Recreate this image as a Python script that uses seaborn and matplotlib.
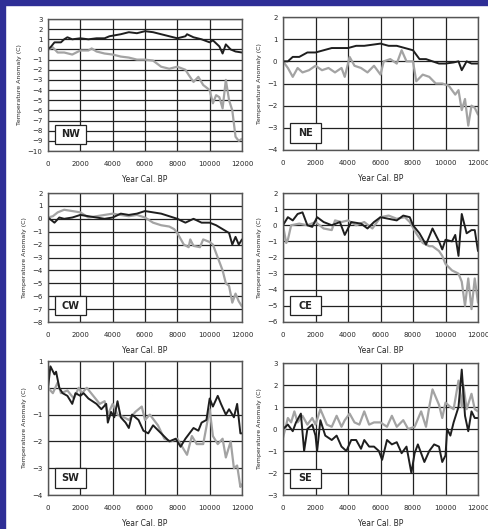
import seaborn as sns
import numpy as np
import matplotlib.pyplot as plt
from matplotlib.patches import Rectangle

# NW region
nw_black_year = [0, 200, 400, 800, 1000, 1200, 1500, 2000, 2500, 3000, 3500, 3800, 4500, 5000, 5500, 6000,
                 6500, 7000, 7500, 8000, 8500, 8600, 9000, 9500, 10000, 10200, 10600, 10800, 11000, 11300,
                 11600, 12000]
nw_black_val = [0, 0.3, 0.7, 0.7, 1.0, 1.2, 1.0, 1.1, 1.0, 1.1, 1.1, 1.3, 1.5, 1.7, 1.6, 1.8,
                1.7, 1.5, 1.3, 1.1, 1.3, 1.5, 1.2, 1.0, 0.7, 0.9, 0.3, -0.4, 0.5, 0.0,
                -0.2, -0.3]
nw_grey_year = [0, 300, 600, 1000, 1500, 2000, 2500, 2700, 3000, 3500, 4000, 4500, 5000, 5500, 6000, 6500,
                7000, 7500, 8000, 8500, 8700, 9000, 9300, 9600, 10000, 10200, 10400, 10600, 10800, 11000,
                11200, 11400, 11600, 11800, 12000]
nw_grey_val = [0, 0.2, -0.3, -0.3, -0.5, -0.1, -0.1, 0.1, -0.2, -0.4, -0.5, -0.7, -0.8, -1.0, -1.0, -1.1,
               -1.7, -1.9, -1.7, -2.0, -2.5, -3.2, -2.7, -3.5, -4.0, -5.3, -4.5, -4.7, -5.8, -3.0,
               -5.0, -6.0, -8.6, -9.0, -8.8]

# NE region
ne_black_year = [0, 300, 600, 1000, 1500, 2000, 2500, 3000, 3500, 4000, 4500, 5000, 5500, 6000, 6500, 7000,
                 7500, 8000, 8400, 8800, 9200, 9600, 10000, 10500, 10800, 11000, 11300, 11600, 12000]
ne_black_val = [0, 0, 0.2, 0.2, 0.4, 0.4, 0.5, 0.6, 0.6, 0.6, 0.7, 0.7, 0.75, 0.8, 0.7, 0.7,
                0.6, 0.5, 0.1, 0.1, 0.0, -0.1, -0.1, -0.05, 0.0, -0.4, 0.0, -0.1, -0.1]
ne_grey_year = [0, 300, 600, 900, 1200, 1600, 2000, 2400, 2800, 3200, 3600, 3800, 4100, 4400, 4800, 5200,
                5600, 6000, 6200, 6600, 7000, 7300, 7600, 8000, 8200, 8600, 9000, 9400, 9800, 10200,
                10600, 10800, 11000, 11200, 11400, 11600, 11800, 12000]
ne_grey_val = [0, -0.3, -0.7, -0.3, -0.5, -0.4, -0.2, -0.4, -0.3, -0.5, -0.3, -0.7, 0.2, -0.2, -0.3, -0.5,
               -0.2, -0.6, 0.0, 0.1, -0.1, 0.5, 0.0, 0.0, -0.9, -0.6, -0.7, -1.0, -1.0, -1.1,
               -1.5, -1.3, -2.2, -1.7, -2.9, -2.0, -2.1, -2.4]

# CW region
cw_black_year = [0, 400, 700, 1000, 1500, 2000, 2500, 3000, 3500, 4000, 4500, 5000, 5500, 6000, 6500, 7000,
                 7500, 8000, 8500, 9000, 9500, 10000, 10400, 10800, 11200, 11400, 11600, 11800, 12000]
cw_black_val = [0.1, -0.3, 0.1, 0.0, 0.1, 0.3, 0.2, 0.1, 0.0, 0.1, 0.4, 0.3, 0.4, 0.6, 0.5, 0.4,
                0.2, 0.0, -0.3, 0.0, -0.3, -0.3, -0.5, -0.8, -1.1, -2.0, -1.4, -2.0, -1.6]
cw_grey_year = [0, 300, 600, 1000, 1500, 2000, 2500, 3000, 3500, 4000, 4500, 5000, 5500, 6000, 6500, 7000,
                7500, 7800, 8000, 8400, 8700, 8800, 9000, 9400, 9600, 10000, 10200, 10500, 10800, 11000,
                11200, 11400, 11600, 11800, 12000]
cw_grey_val = [0.1, 0.2, 0.5, 0.7, 0.6, 0.5, 0.1, 0.2, 0.3, 0.4, 0.3, 0.2, 0.3, 0.1, -0.3, -0.5,
               -0.6, -0.8, -1.1, -2.0, -2.2, -1.6, -2.1, -2.2, -1.6, -1.8, -2.0, -3.0, -4.0, -5.0,
               -5.2, -6.5, -5.8, -6.4, -6.8]

# CE region
ce_black_year = [0, 300, 600, 900, 1200, 1500, 1800, 2100, 2500, 3000, 3500, 3800, 4200, 4800, 5200, 5600,
                 6000, 6500, 7000, 7400, 7800, 8000, 8400, 8800, 9200, 9600, 9800, 10000, 10400, 10600,
                 10800, 11000, 11300, 11600, 11800, 12000]
ce_black_val = [0, 0.5, 0.3, 0.7, 0.8, 0.0, -0.1, 0.5, 0.2, 0.0, 0.2, -0.6, 0.2, 0.1, -0.2, 0.2,
                0.5, 0.4, 0.3, 0.6, 0.5, 0.0, -0.5, -1.2, -0.2, -1.0, -1.5, -0.9, -1.0, -0.6,
                -1.9, 0.7, -0.5, -0.3, -0.3, -1.6]
ce_grey_year = [0, 200, 300, 500, 1000, 1500, 2000, 2500, 3000, 3200, 3600, 4000, 4500, 5000, 5500, 6000,
                6500, 7000, 7500, 7800, 8200, 8600, 9000, 9200, 9600, 9800, 10000, 10400, 10800, 11000,
                11200, 11400, 11600, 11800, 12000]
ce_grey_val = [0, -1.1, -0.9, 0.0, 0.1, 0.0, 0.2, -0.2, -0.3, 0.3, 0.2, 0.3, 0.0, 0.2, -0.2, 0.5,
               0.6, 0.4, 0.5, 0.2, -0.5, -1.1, -1.3, -1.3, -1.6, -1.9, -2.4, -2.8, -3.0, -3.5,
               -5.0, -3.3, -5.2, -3.3, -4.8]

# SW region
sw_black_year = [0, 150, 400, 500, 700, 900, 1200, 1500, 1700, 2000, 2200, 2500, 3000, 3300, 3600, 3700,
                 3900, 4100, 4300, 4500, 4800, 5000, 5200, 5600, 5900, 6200, 6500, 7000, 7500, 7900,
                 8200, 8500, 9000, 9300, 9500, 9800, 10000, 10200, 10500, 10700, 11000, 11200, 11500,
                 11700, 11900, 12000]
sw_black_val = [0, 0.8, 0.5, 0.6, 0.0, -0.2, -0.3, -0.6, -0.2, -0.3, -0.2, -0.4, -0.6, -0.8, -0.6, -1.3,
                -0.9, -1.1, -0.5, -1.1, -1.3, -1.5, -1.0, -1.2, -1.6, -1.7, -1.4, -1.7, -2.0, -1.9,
                -2.2, -1.9, -1.5, -1.6, -1.3, -1.2, -0.4, -0.7, -0.3, -0.6, -1.0, -0.8, -1.1,
                -0.6, -1.7, -1.7]
sw_grey_year = [0, 300, 600, 800, 1200, 1600, 1900, 2100, 2400, 2800, 3200, 3500, 3700, 4000, 4300, 4700,
                5000, 5400, 5800, 6000, 6300, 6800, 7200, 7600, 8000, 8400, 8600, 8900, 9200, 9600,
                10000, 10200, 10500, 10800, 11000, 11300, 11500, 11700, 11900, 12000]
sw_grey_val = [0, -0.2, 0.2, -0.2, -0.1, -0.4, 0.0, -0.2, 0.0, -0.3, -0.6, -0.5, -1.0, -0.6, -1.0, -1.1,
               -1.2, -0.9, -0.7, -1.2, -1.0, -1.4, -1.9, -2.0, -1.9, -2.3, -2.5, -1.8, -2.1, -2.1,
               -0.8, -1.8, -2.1, -1.9, -2.6, -2.0, -3.0, -2.9, -3.7, -3.6]

# SE region
se_black_year = [0, 300, 600, 800, 1100, 1300, 1500, 1800, 2000, 2100, 2300, 2600, 3000, 3300, 3600, 3900,
                 4200, 4500, 4800, 5000, 5300, 5600, 5900, 6100, 6400, 6700, 7000, 7300, 7600, 7900,
                 8100, 8300, 8700, 9000, 9300, 9600, 9800, 10000, 10100, 10300, 10500, 10800, 11000,
                 11200, 11400, 11600, 11800, 12000]
se_black_val = [0, 0.2, -0.1, 0.3, 0.7, -1.0, 0.0, 0.2, -0.3, -1.0, 0.4, -0.3, -0.5, -0.3, -0.8, -1.0,
                -0.5, -0.5, -0.9, -0.5, -0.8, -0.8, -1.0, -1.4, -0.5, -0.7, -0.6, -1.1, -0.8, -2.0,
                -1.1, -0.7, -1.5, -1.0, -0.7, -0.8, -1.5, -1.2, 0.0, -0.3, 0.3, 1.0, 2.7,
                0.6, -0.1, 0.8, 0.5, 0.5]
se_grey_year = [0, 300, 500, 700, 900, 1200, 1500, 1800, 2000, 2300, 2700, 3000, 3300, 3600, 3800, 4100,
                4400, 4700, 5000, 5300, 5600, 6000, 6400, 6700, 7000, 7400, 7700, 8100, 8500, 8800,
                9000, 9200, 9600, 9800, 10000, 10300, 10500, 10800, 11000, 11100, 11300, 11600, 11800,
                12000]
se_grey_val = [-0.4, 0.5, 0.3, 0.8, 0.3, 0.6, 0.2, 0.5, 0.2, 0.9, 0.2, 0.1, 0.6, 0.1, 0.4, 0.7,
               0.3, 0.2, 0.8, 0.2, 0.3, 0.3, 0.1, 0.6, 0.1, 0.4, 0.0, 0.1, 0.8, 0.1,
               1.0, 1.8, 1.1, 0.5, 1.2, 1.0, 0.9, 2.2, 1.0, 2.0, 0.9, 1.6, 0.9,
               0.8]

panels = [
    ("NW", nw_black_year, nw_black_val, nw_grey_year, nw_grey_val, (-10, 3)),
    ("NE", ne_black_year, ne_black_val, ne_grey_year, ne_grey_val, (-4, 2)),
    ("CW", cw_black_year, cw_black_val, cw_grey_year, cw_grey_val, (-8, 2)),
    ("CE", ce_black_year, ce_black_val, ce_grey_year, ce_grey_val, (-6, 2)),
    ("SW", sw_black_year, sw_black_val, sw_grey_year, sw_grey_val, (-4, 1)),
    ("SE", se_black_year, se_black_val, se_grey_year, se_grey_val, (-3, 3)),
]

# axes boxes in pixels: left, top, right, bottom
boxes = [
    (48, 19, 242, 151), (283, 17, 478, 150),
    (48, 193, 242, 322), (283, 193, 478, 322),
    (48, 361, 242, 495), (283, 363, 478, 495),
]

W, H = 488, 529
sns.set_style("white")
fig = plt.figure(figsize=(W / 100, H / 100), dpi=100)
fig.patch.set_facecolor("white")

# blue frame on the left and top
fig.patches.append(Rectangle((0, 0), 5 / W, 1, transform=fig.transFigure, color="#2e2e96", zorder=0))
fig.patches.append(Rectangle((0, 1 - 5 / H), 1, 5 / H, transform=fig.transFigure, color="#2e2e96", zorder=0))

for (name, bx, by, gx, gy, ylim), (l, t, r, b) in zip(panels, boxes):
    ax = fig.add_axes([l / W, 1 - b / H, (r - l) / W, (b - t) / H])
    sns.lineplot(x=gx, y=gy, ax=ax, color="#a3a3a3", linewidth=1.6)
    sns.lineplot(x=bx, y=by, ax=ax, color="#1e1e1e", linewidth=1.4)
    ax.set_xlim(0, 12000)
    ax.set_ylim(*ylim)
    ax.set_xticks(np.arange(0, 12001, 2000))
    ax.set_yticks(np.arange(ylim[0], ylim[1] + 1, 1))
    ax.grid(True, color="#222222", linewidth=0.9)
    ax.set_axisbelow(True)
    for s in ax.spines.values():
        s.set_color("#555555")
        s.set_linewidth(1.0)
    ax.tick_params(labelsize=5, length=0)
    ax.tick_params(axis="x", pad=7)
    ax.tick_params(axis="y", pad=4)
    ax.set_xlabel("Year Cal. BP", fontsize=5.5, labelpad=6)
    ax.set_ylabel("Temperature Anomaly (C)", fontsize=4.5, labelpad=4)
    ax.add_patch(Rectangle((0.035, 0.055), 0.16, 0.145, transform=ax.transAxes,
                           facecolor="white", edgecolor="#222222", linewidth=0.9, zorder=5))
    ax.text(0.115, 0.1275, name, transform=ax.transAxes, ha="center", va="center",
            fontsize=7, fontweight="bold", color="#222222", zorder=6)

plt.savefig("out.png", dpi=100)
